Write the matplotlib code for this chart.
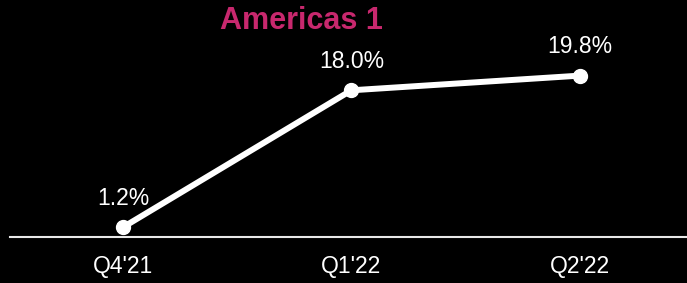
import numpy as np
from matplotlib import pyplot as plt

plt.rcParams['font.family'] = ['Liberation Sans', 'DejaVu Sans']

quarters = ["Q4'21", "Q1'22", "Q2'22"]
growth = [1.2, 18.0, 19.8]
labels = ['1.2%', '18.0%', '19.8%']

fig = plt.figure(figsize=(6.87, 2.83), dpi=100, facecolor='black')
ax = fig.add_axes([10/687, 46/283, 677/687, 237/283])
ax.set_facecolor('black')

x = np.arange(len(quarters))
ax.plot(x, growth, color='white', lw=4.3, marker='o', ms=10, solid_capstyle='round', clip_on=False, zorder=3)
for xi, yi, lab in zip(x, growth, labels):
    ax.annotate(lab, (xi, yi), xytext=(0, 16), textcoords='offset points',
                ha='center', va='baseline', color='white', fontsize=16.5)

ax.set_xlim(-0.495, 2.47)
ax.set_ylim(0, 29.08)
ax.set_xticks(x)
ax.set_xticklabels(quarters, color='white', fontsize=16.5)
ax.tick_params(axis='x', length=0, pad=13)
ax.set_yticks([])
for s in ['top', 'right', 'left']:
    ax.spines[s].set_visible(False)
ax.spines['bottom'].set_color('#e8e8e8')
ax.spines['bottom'].set_linewidth(1.5)

fig.text(301.5/687, 1 - 21/283, 'Americas 1', ha='center', va='center',
         color='#C8286E', fontsize=22, fontweight='bold')

fig.savefig('out.png', dpi=100, facecolor='black')
